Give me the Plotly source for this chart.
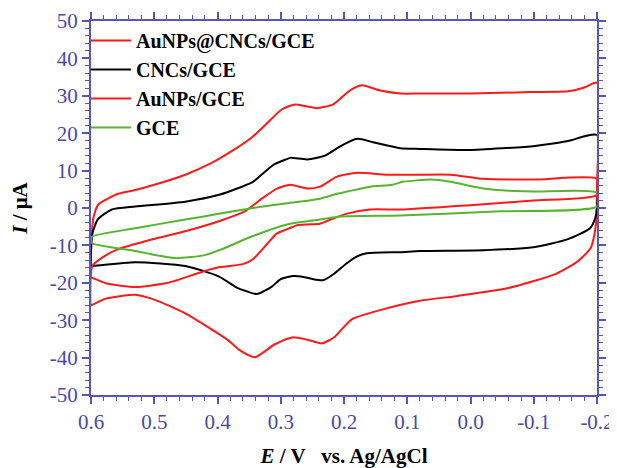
import plotly.graph_objects as go

# ---------------- data ----------------
series_names = ["AuNPs@CNCs/GCE", "CNCs/GCE", "AuNPs/GCE", "GCE"]
series_colors = ["#ff1a1a", "#000000", "#ff1a1a", "#55b52e"]

# AuNPs@CNCs/GCE : forward branch then reverse branch (closed loop)
aucnc_E = [0.600, 0.599, 0.596, 0.588, 0.557, 0.530, 0.500, 0.451, 0.410, 0.372, 0.345,
           0.325, 0.298, 0.277, 0.260, 0.243, 0.217, 0.191, 0.172, 0.143, 0.111, 0.080,
           0.000, -0.094, -0.154, -0.181, -0.200,
           -0.200, -0.199, -0.196, -0.190, -0.170, -0.135, -0.060, 0.020, 0.080, 0.143,
           0.186, 0.198, 0.215, 0.235, 0.258, 0.282, 0.310, 0.341, 0.365, 0.383, 0.451,
           0.500, 0.530, 0.578, 0.598, 0.600]
aucnc_I = [-26.0, -8.0, -2.5, 1.0, 3.8, 4.8, 6.2, 8.9, 12.0, 15.8, 19.0,
           22.1, 26.4, 27.7, 27.2, 26.7, 27.7, 31.4, 32.8, 31.4, 30.6, 30.6,
           30.6, 31.0, 31.2, 32.3, 33.5,
           6.0, -3.0, -7.0, -10.7, -14.2, -17.6, -21.4, -23.5, -24.8, -27.3,
           -29.6, -31.4, -34.5, -36.2, -35.2, -34.6, -36.5, -39.9, -38.0, -35.4, -28.2,
           -24.5, -23.2, -24.3, -25.9, -26.0]

# CNCs/GCE
cnc_E = [0.600, 0.598, 0.589, 0.567, 0.530, 0.451, 0.396, 0.372, 0.344, 0.325, 0.312,
         0.293, 0.285, 0.258, 0.230, 0.206, 0.179, 0.154, 0.111, 0.080, 0.004, -0.102,
         -0.154, -0.200,
         -0.200, -0.197, -0.189, -0.153, -0.099, -0.020, 0.080, 0.111, 0.164, 0.180,
         0.195, 0.215, 0.233, 0.250, 0.268, 0.281, 0.300, 0.314, 0.338, 0.355, 0.368,
         0.399, 0.451, 0.530, 0.598, 0.600]
cnc_I = [-15.5, -7.0, -3.0, -0.4, 0.4, 1.7, 3.6, 5.0, 7.0, 9.7, 11.5,
         12.9, 13.4, 13.0, 14.0, 16.5, 18.5, 17.6, 16.0, 15.8, 15.5, 16.6,
         17.9, 19.5,
         0.0, -2.8, -5.4, -8.4, -10.5, -11.3, -11.5, -11.8, -12.1, -13.0,
         -14.7, -17.5, -19.3, -19.0, -18.3, -18.2, -19.0, -21.0, -23.0, -22.2, -21.4,
         -18.2, -15.5, -14.5, -15.5, -15.5]

# AuNPs/GCE
au_E = [0.600, 0.598, 0.580, 0.557, 0.504, 0.451, 0.399, 0.357, 0.330, 0.306, 0.285,
        0.258, 0.238, 0.211, 0.179, 0.132, 0.080, 0.032, -0.020, -0.099, -0.200,
        -0.200, -0.099, 0.006, 0.111, 0.159, 0.195, 0.217, 0.238, 0.258, 0.274, 0.292,
        0.306, 0.322, 0.344, 0.360, 0.396, 0.425, 0.478, 0.530, 0.575, 0.598, 0.600]
au_I = [-18.7, -15.5, -13.0, -11.0, -8.4, -6.2, -3.6, -0.9, 2.5, 5.2, 6.2,
        5.2, 5.7, 8.4, 9.4, 8.9, 8.9, 8.9, 7.8, 7.6, 7.8,
        3.5, 2.0, 0.7, -0.4, -0.4, -1.5, -2.8, -4.2, -4.4, -4.6, -5.8,
        -6.8, -9.7, -13.7, -15.0, -15.8, -17.1, -20.0, -21.1, -20.2, -18.7, -18.7]

# GCE
gce_E = [0.600, 0.598, 0.530, 0.451, 0.396, 0.344, 0.290, 0.238, 0.211, 0.195, 0.159,
         0.124, 0.107, 0.062, 0.032, -0.020, -0.062, -0.099, -0.200,
         -0.200, -0.047, 0.111, 0.206, 0.238, 0.290, 0.344, 0.396, 0.420, 0.467, 0.530,
         0.598, 0.600]
gce_I = [-8.5, -7.6, -5.4, -3.1, -1.5, 0.0, 1.3, 2.5, 3.8, 4.4, 5.7,
         6.2, 7.0, 7.6, 7.0, 5.2, 4.6, 4.4, 4.1,
         0.4, -0.9, -2.0, -2.3, -3.1, -4.4, -7.5, -11.2, -12.6, -13.4, -11.5,
         -9.4, -8.5]

x_tickvals = [0.6, 0.5, 0.4, 0.3, 0.2, 0.1, 0.0, -0.1, -0.2]
x_ticktext = ["0.6", "0.5", "0.4", "0.3", "0.2", "0.1", "0.0", "-0.1", "-0.2"]
y_tickvals = [50, 40, 30, 20, 10, 0, -10, -20, -30, -40, -50]
y_ticktext = ["50", "40", "30", "20", "10", "0", "-10", "-20", "-30", "-40", "-50"]

# ---------------- figure ----------------
serif = "Liberation Serif"
axis_col = "#5656bd"
tick_col = "#4a4aa6"

fig = go.Figure()
all_E = [aucnc_E, cnc_E, au_E, gce_E]
all_I = [aucnc_I, cnc_I, au_I, gce_I]
for name, col, E, I in zip(series_names, series_colors, all_E, all_I):
    fig.add_trace(go.Scatter(
        x=E, y=I, mode="lines", name="<b>" + name + "</b>",
        line=dict(color=col, width=2, shape="spline", smoothing=0.6),
    ))

common_axis = dict(
    showline=True, linecolor=axis_col, linewidth=2, mirror="ticks",
    ticks="outside", ticklen=7, tickwidth=1.5, tickcolor=axis_col,
    showgrid=False, zeroline=False, automargin=False,
    ticklabeloverflow="allow",
    tickfont=dict(family=serif, size=21, color=tick_col),
)

# page body has an 8 px margin, so the figure is sized/margined to compensate
fig.update_layout(
    width=609, height=460,
    margin=dict(l=83, r=20, t=13, b=73, autoexpand=False),
    paper_bgcolor="white", plot_bgcolor="white",
    showlegend=True,
    legend=dict(x=-0.01, y=1.0, xanchor="left", yanchor="top",
                bgcolor="rgba(0,0,0,0)", borderwidth=0,
                font=dict(family=serif, size=20, color="black"),
                tracegroupgap=0, itemwidth=40),
    xaxis=dict(
        range=[0.6, -0.2], tickmode="array", tickvals=x_tickvals, ticktext=x_ticktext,
        minor=dict(dtick=0.02, ticks="outside", ticklen=4, tickcolor=axis_col, tickwidth=1),
        title=dict(text="<b><i>E</i> / V\u00a0\u00a0\u00a0vs. Ag/AgCl</b>",
                   font=dict(family=serif, size=21, color="black"), standoff=16),
        **common_axis,
    ),
    yaxis=dict(
        range=[-50, 50], tickmode="array", tickvals=y_tickvals, ticktext=y_ticktext,
        minor=dict(dtick=2, ticks="outside", ticklen=4, tickcolor=axis_col, tickwidth=1),
        title=dict(text="<b><i>I</i> / μA</b>",
                   font=dict(family=serif, size=21, color="black"), standoff=16),
        **common_axis,
    ),
)

fig.write_html("out.html")
